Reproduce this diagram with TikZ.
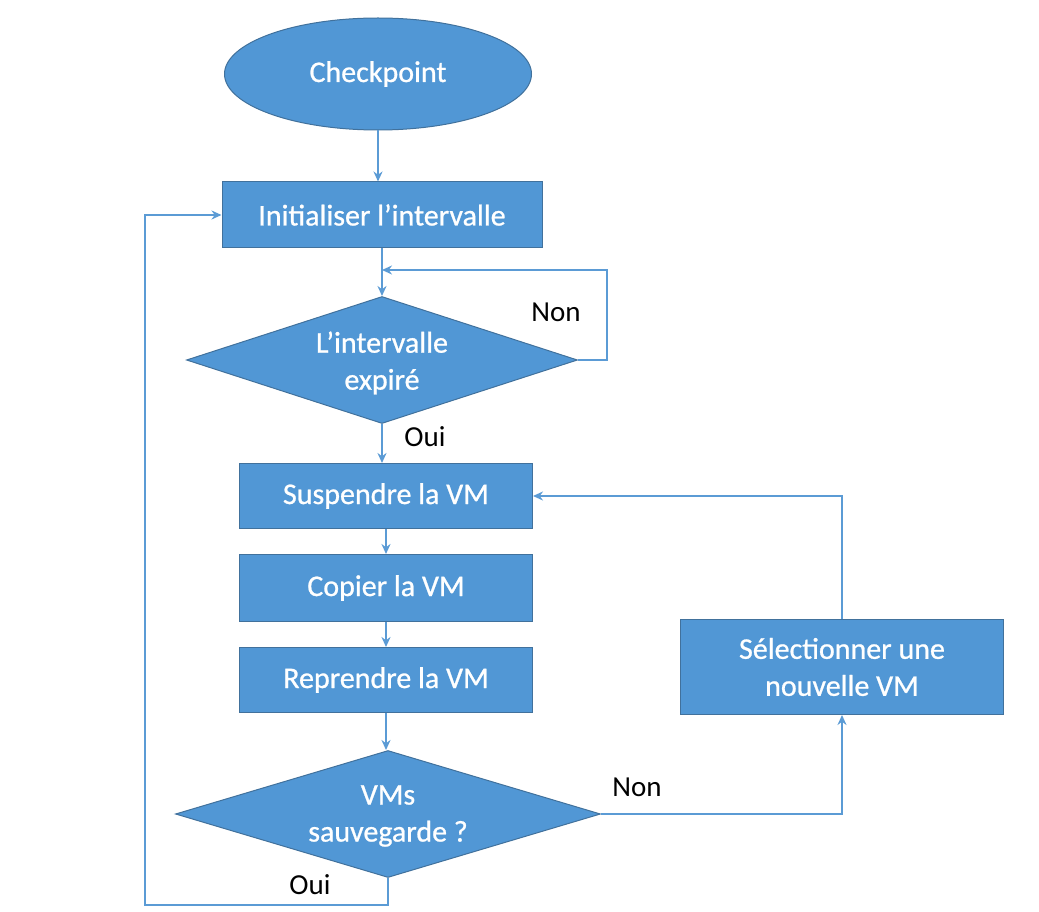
\documentclass[tikz,border=0pt]{standalone}
\usepackage{fontspec}
\setmainfont{Carlito}
\newfontfamily\boxfont[FakeBold=0.8]{Carlito}
\usetikzlibrary{shapes.geometric,arrows.meta}
\definecolor{boxfill}{RGB}{81,151,213}
\definecolor{boxline}{RGB}{65,113,156}
\definecolor{conn}{RGB}{91,155,213}
\tikzset{
  base/.style={fill=boxfill,draw=boxline,line width=1pt,text=white,font=\boxfont\fontsize{30}{37}\selectfont,align=center,inner sep=0pt},
  stepbox/.style={base,rectangle,minimum width=#1,minimum height=66},
  startnode/.style={base,ellipse,minimum width=307,minimum height=112},
  decision/.style={base,diamond,minimum width=#1,minimum height=127},
  dtext/.style={text=white,font=\boxfont\fontsize{30}{37}\selectfont,align=center,inner sep=0pt},
  lbl/.style={text=black,font=\fontsize{29}{35}\selectfont,inner sep=0pt},
  arr/.style={draw=conn,line width=2pt,-{Stealth[length=10pt,width=9pt]}},
}
\begin{document}
\begin{tikzpicture}[x=1pt,y=-1pt]
\useasboundingbox (0,0) rectangle (1039,912);
\node[startnode] (cp) at (378,74) {Checkpoint};
\node[stepbox=320] (init) at (382,215) {Initialiser l’intervalle};
\node[decision=391,label={[dtext,name=d1t,yshift=-3pt]center:{L’intervalle\\expiré}}] (d1) at (382,360) {};
\node[stepbox=293,minimum height=65] (susp) at (386,496) {Suspendre la VM};
\node[stepbox=293,minimum height=67] (copy) at (386,588) {Copier la VM};
\node[stepbox=293,minimum height=65] (rep) at (386,680) {Reprendre la VM};
\node[decision=425,label={[dtext,name=d2t,yshift=-2pt]center:{VMs\\sauvegarde ?}}] (d2) at (388,814) {};
\node[stepbox=323,minimum height=95] (sel) at (842,667) {Sélectionner une\\nouvelle VM};

\node[lbl] (non1) at (556,312) {Non};
\node[lbl] (oui1) at (425,437) {Oui};
\node[lbl] (non2) at (637,787) {Non};
\node[lbl] (oui2) at (310,885) {Oui};

\coordinate (j1) at (382,270);
\coordinate (c1) at (145,905);

\draw[arr] (cp.south) -- (cp.south |- init.north);
\draw[arr] (init.south) -- (d1.north);
\draw[arr] (d1.east) -- ++(29,0) |- (j1);
\draw[arr] (d1.south) -- (d1.south |- susp.north);
\draw[arr] (susp.south) -- (copy.north);
\draw[arr] (copy.south) -- (rep.north);
\draw[arr] (rep.south) -- (rep.south |- d2.north);
\draw[arr] (d2.south) |- (c1) |- (init.west);
\draw[arr] (d2.east) -| (sel.south);
\draw[arr] (sel.north) |- (susp.east);
\end{tikzpicture}
\end{document}
